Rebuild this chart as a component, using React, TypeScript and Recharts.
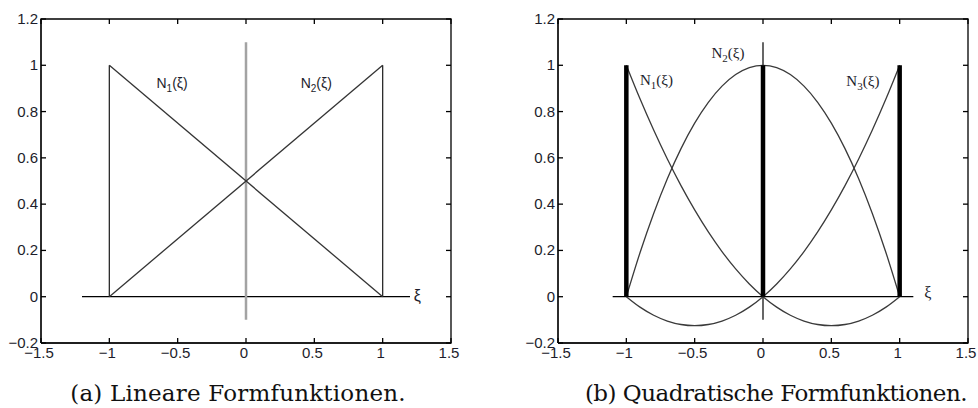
import React from 'react';
import { ComposedChart, Line, XAxis, YAxis, ReferenceDot } from 'recharts';

// ticks
const xTicks = [-1.5, -1, -0.5, 0, 0.5, 1, 1.5];
const yTicks = [-0.2, 0, 0.2, 0.4, 0.6, 0.8, 1, 1.2];

// (a) linear shape functions
const linXi = [-1, 1];
const linN1 = [1, 0];
const linN2 = [0, 1];
const axisSpanA = [-1.2, 1.2];

// (b) quadratic shape functions, read at 0.1 steps
const quadXi = [-1, -0.9, -0.8, -0.7, -0.6, -0.5, -0.4, -0.3, -0.2, -0.1, 0, 0.1, 0.2, 0.3, 0.4, 0.5, 0.6, 0.7, 0.8, 0.9, 1];
const quadN1 = [1, 0.855, 0.72, 0.595, 0.48, 0.375, 0.28, 0.195, 0.12, 0.055, 0, -0.045, -0.08, -0.105, -0.12, -0.125, -0.12, -0.105, -0.08, -0.045, 0];
const quadN2 = [0, 0.19, 0.36, 0.51, 0.64, 0.75, 0.84, 0.91, 0.96, 0.99, 1, 0.99, 0.96, 0.91, 0.84, 0.75, 0.64, 0.51, 0.36, 0.19, 0];
const quadN3 = [0, -0.045, -0.08, -0.105, -0.12, -0.125, -0.12, -0.105, -0.08, -0.045, 0, 0.055, 0.12, 0.195, 0.28, 0.375, 0.48, 0.595, 0.72, 0.855, 1];
const axisSpanB = [-1.1, 1.1];

// shared
const nodeXi = [-1, 0, 1];
const stemSpan = [0, 1];
const centerSpan = [-0.1, 1.1];
const boxX = [-1.5, 1.5, 1.5, -1.5, -1.5];
const boxY = [-0.2, -0.2, 1.2, 1.2, -0.2];

const PLOT_W = 410;
const PLOT_H = 324;
const TICK = 5;

const pts = (xs: number[], ys: number[]) => xs.map((x, i) => ({ x, y: ys[i] }));
const vline = (x: number, span: number[]) => pts([x, x], span);
const hline = (span: number[]) => pts(span, [0, 0]);

const fmt = (v: number) => (v < 0 ? '\u2212' + String(-v) : String(v));
const tickFont = { fontFamily: 'Liberation Sans', fontSize: 15, fill: '#1d1d2b' };

// matlab style: inward ticks on both opposite sides
const BottomTick = (p: any) => (
  <g>
    <line x1={p.x} x2={p.x} y1={p.y} y2={p.y - TICK} stroke="#000" strokeWidth={1.3} />
    <line x1={p.x} x2={p.x} y1={p.y - PLOT_H} y2={p.y - PLOT_H + TICK} stroke="#000" strokeWidth={1.3} />
    <text x={p.x - 2} y={p.y + 15} textAnchor="middle" {...tickFont}>{fmt(p.payload.value)}</text>
  </g>
);
const LeftTick = (p: any) => (
  <g>
    <line x1={p.x} x2={p.x + TICK} y1={p.y} y2={p.y} stroke="#000" strokeWidth={1.3} />
    <line x1={p.x + PLOT_W} x2={p.x + PLOT_W - TICK} y1={p.y} y2={p.y} stroke="#000" strokeWidth={1.3} />
    <text x={p.x - 3} y={p.y + 5} textAnchor="end" {...tickFont}>{fmt(p.payload.value)}</text>
  </g>
);

const nLabel = (n: string, font: string, size: number) => (p: any) => (
  <text x={p.cx} y={p.cy} fontFamily={font} fontSize={size} fill="#1d1d2b">
    <tspan>N</tspan>
    <tspan dy={4} fontSize={size - 4}>{n}</tspan>
    <tspan dy={-4}>(ξ)</tspan>
  </text>
);
const xiLabel = (font: string) => (p: any) => (
  <text x={p.cx} y={p.cy} fontFamily={font} fontSize={16} fill="#1d1d2b">ξ</text>
);

const seg = (key: string, data: any[], color: string, width: number, type: any = 'linear') => (
  <Line key={key} xAxisId="b" yAxisId="l" data={data} dataKey="y" type={type} stroke={color} strokeWidth={width}
    dot={false} activeDot={false} isAnimationActive={false} />
);

// no allowDataOverflow: it would clip the frame line to the plot area
const Frame = () => [
  <XAxis key="xb" xAxisId="b" dataKey="x" type="number" domain={[-1.5, 1.5]} ticks={xTicks} height={27}
    tickSize={0} tickMargin={0} tick={BottomTick} stroke="#000" />,
  <YAxis key="yl" yAxisId="l" type="number" domain={[-0.2, 1.2]} ticks={yTicks} width={40}
    tickSize={0} tickMargin={0} tick={LeftTick} stroke="#000" />,
  seg('box', pts(boxX, boxY), '#000', 1.3),
];

const captionStyle: React.CSSProperties = {
  position: 'absolute', top: 379, fontFamily: 'DejaVu Serif, serif', fontSize: 23, color: '#111',
  whiteSpace: 'nowrap', textAlign: 'center', width: 440, lineHeight: '28px',
};

export default function App() {
  const sans = 'Liberation Sans';
  const serif = 'Liberation Serif';
  return (
    <div style={{ position: 'absolute', left: 0, top: 0, width: 978, height: 408, background: '#fff' }}>
      <div style={{ position: 'absolute', left: 0, top: 0 }}>
        <ComposedChart width={480} height={370} margin={{ top: 19, right: 29, bottom: 0, left: 1 }}>
          {Frame()}
          {seg('ax', hline(axisSpanA), '#000', 1.2)}
          {seg('c', vline(0, centerSpan), '#a3a3a3', 2.5)}
          {seg('e1', vline(-1, stemSpan), '#2a2a2a', 1.3)}
          {seg('e2', vline(1, stemSpan), '#2a2a2a', 1.3)}
          {seg('n1', pts(linXi, linN1), '#333', 1.3)}
          {seg('n2', pts(linXi, linN2), '#333', 1.3)}
          <ReferenceDot xAxisId="b" yAxisId="l" x={-0.655} y={0.9} r={0} shape={nLabel('1', sans, 14)} />
          <ReferenceDot xAxisId="b" yAxisId="l" x={0.4} y={0.9} r={0} shape={nLabel('2', sans, 14)} />
          <ReferenceDot xAxisId="b" yAxisId="l" x={1.228} y={-0.02} r={0} shape={xiLabel(sans)} />
        </ComposedChart>
      </div>
      <div style={{ position: 'absolute', left: 490, top: 0 }}>
        <ComposedChart width={488} height={370} margin={{ top: 19, right: 10, bottom: 0, left: 28 }}>
          {Frame()}
          {seg('ax', hline(axisSpanB), '#000', 1.2)}
          {seg('c', vline(0, centerSpan), '#000', 1.2)}
          {seg('q1', pts(quadXi, quadN1), '#3a3a3a', 1.3, 'monotone')}
          {seg('q2', pts(quadXi, quadN2), '#3a3a3a', 1.3, 'monotone')}
          {seg('q3', pts(quadXi, quadN3), '#3a3a3a', 1.3, 'monotone')}
          {nodeXi.map((x) => seg('s' + x, vline(x, stemSpan), '#000', 4.5))}
          <ReferenceDot xAxisId="b" yAxisId="l" x={-0.9} y={0.915} r={0} shape={nLabel('1', serif, 15)} />
          <ReferenceDot xAxisId="b" yAxisId="l" x={-0.377} y={1.03} r={0} shape={nLabel('2', serif, 15)} />
          <ReferenceDot xAxisId="b" yAxisId="l" x={0.61} y={0.91} r={0} shape={nLabel('3', serif, 15)} />
          <ReferenceDot xAxisId="b" yAxisId="l" x={1.18} y={-0.005} r={0} shape={xiLabel(serif)} />
        </ComposedChart>
      </div>
      <div style={{ ...captionStyle, left: 238 - 220, letterSpacing: 0.2 }}>(a) Lineare Formfunktionen.</div>
      <div style={{ ...captionStyle, left: 776 - 220, letterSpacing: -0.5 }}>(b) Quadratische Formfunktionen.</div>
    </div>
  );
}
